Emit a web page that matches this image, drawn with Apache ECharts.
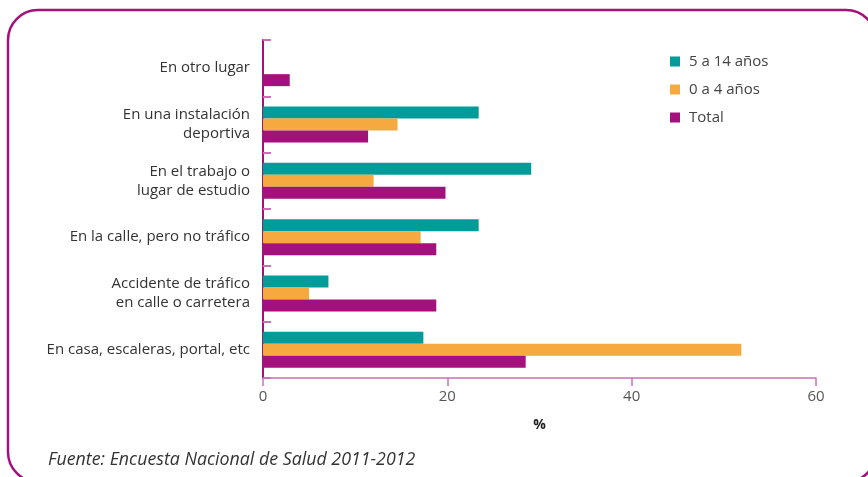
<!DOCTYPE html>
<html>
<head>
<meta charset="utf-8">
<script src="https://cdn.jsdelivr.net/npm/echarts@6/dist/echarts.min.js"></script>
<style>
  html, body { margin: 0; padding: 0; background: #fff; }
  #chart { width: 868px; height: 477px; }
</style>
</head>
<body>
<div id="chart"></div>
<script>
// categorias de abajo hacia arriba (eje y de categorias)
var categories = [
  "En casa, escaleras, portal, etc",
  "Accidente de tráfico\nen calle o carretera",
  "En la calle, pero no tráfico",
  "En el trabajo o\nlugar de estudio",
  "En una instalación\ndeportiva",
  "En otro lugar"
];
var total = [28.5, 18.8, 18.8, 19.8, 11.4, 2.9];
var age0to4 = [51.9, 5.0, 17.1, 12.0, 14.6, null];
var age5to14 = [17.4, 7.1, 23.4, 29.1, 23.4, null];
var xTicks = [0, 20, 40, 60];
var sourceText = "Fuente: Encuesta Nacional de Salud 2011-2012";

var chart = echarts.init(document.getElementById("chart"));
var font = "'Open Sans', 'Noto Sans', sans-serif";

var option = {
  animation: false,
  textStyle: { fontFamily: font },
  title: {
    text: sourceText,
    left: 43,
    top: 446,
    textStyle: {
      fontFamily: font,
      fontStyle: "italic",
      fontWeight: "normal",
      fontSize: 17.8,
      color: "#333"
    }
  },
  legend: {
    orient: "vertical",
    left: 665,
    top: 49,
    itemWidth: 10,
    itemHeight: 10,
    itemGap: 13,
    icon: "rect",
    data: ["5 a 14 años", "0 a 4 años", "Total"],
    textStyle: { fontSize: 15, color: "#444", padding: [0, 0, 0, 4] }
  },
  grid: {
    left: 263,
    right: 52,
    top: 40,
    bottom: 99
  },
  xAxis: {
    type: "value",
    min: xTicks[0],
    max: xTicks[xTicks.length - 1],
    interval: 20,
    name: "%",
    nameLocation: "middle",
    nameGap: 40,
    nameTextStyle: { fontWeight: "bold", fontSize: 14, color: "#222" },
    axisLine: { show: true, lineStyle: { color: "#cf6db6", width: 1.5 } },
    axisTick: { show: true, length: 8, lineStyle: { color: "#cf6db6", width: 1.5 } },
    axisLabel: { fontSize: 15, color: "#555", margin: 11 },
    splitLine: { show: false }
  },
  yAxis: {
    type: "category",
    data: categories,
    axisLine: { show: true, lineStyle: { color: "#a4117c", width: 2 } },
    axisTick: { show: true, inside: true, length: 8, lineStyle: { color: "#cf6db6", width: 2 } },
    axisLabel: { fontSize: 15, color: "#333", margin: 13, lineHeight: 19, align: "right" }
  },
  // en barras horizontales la primera serie queda arriba en cada grupo
  series: [
    {
      name: "5 a 14 años",
      type: "bar",
      data: age5to14,
      barWidth: 12,
      barGap: "0%",
      itemStyle: { color: "#009c99" }
    },
    {
      name: "0 a 4 años",
      type: "bar",
      data: age0to4,
      barWidth: 12,
      barGap: "0%",
      itemStyle: { color: "#f5a93e" }
    },
    {
      name: "Total",
      type: "bar",
      data: total,
      barWidth: 12,
      barGap: "0%",
      itemStyle: { color: "#a4117c" }
    }
  ],
  graphic: [
    {
      type: "rect",
      shape: { x: 8, y: 10, width: 868, height: 472, r: 30 },
      style: { fill: "none", stroke: "#a4117c", lineWidth: 2.5 },
      silent: true
    }
  ]
};

chart.setOption(option);
</script>
</body>
</html>
